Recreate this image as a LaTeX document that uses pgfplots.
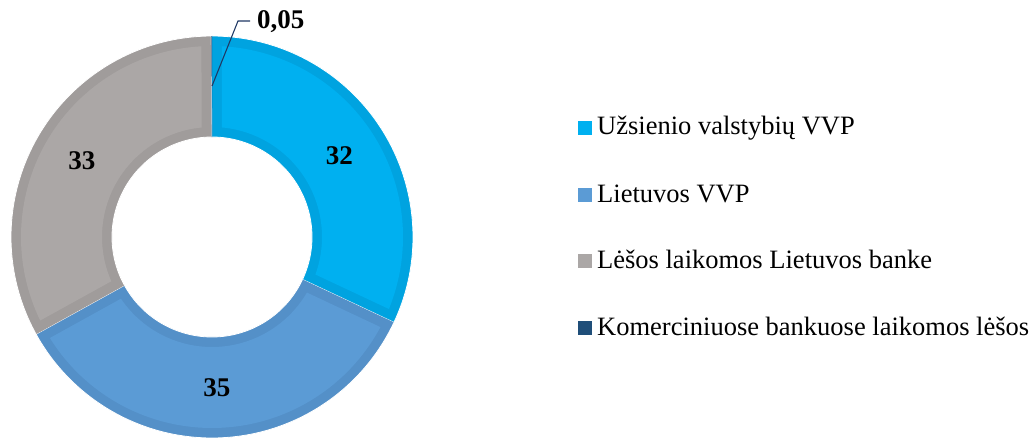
\documentclass[border=0pt]{standalone}
\usepackage{fontspec}
\setmainfont{Liberation Serif}
\usepackage{pgfplots}
\pgfplotsset{compat=1.18}

\definecolor{uzsL}{HTML}{00B0F0}
\definecolor{uzsD}{HTML}{00A3E0}
\definecolor{ltL}{HTML}{5B9BD5}
\definecolor{ltD}{HTML}{5490C8}
\definecolor{lbL}{HTML}{ABA7A6}
\definecolor{lbD}{HTML}{A09C9B}
\definecolor{kom}{HTML}{1F4E79}
\definecolor{lead}{HTML}{1F3864}

% donut slice: style, outer start/end angle, R, inner start/end angle, r
\newcommand\ring[7]{%
  \addplot[#1, samples at={0,...,201}, variable=\t, forget plot]
  ({212 + (\t<100.5 ? #4 : #7)*cos(\t<100.5 ? (#2)+((#3)-(#2))*\t/100 : (#6)+((#5)-(#6))*(\t-101)/100)},
   {200 + (\t<100.5 ? #4 : #7)*sin(\t<100.5 ? (#2)+((#3)-(#2))*\t/100 : (#6)+((#5)-(#6))*(\t-101)/100)});
}

\newcommand\lbfont{\fontsize{26.5}{30}\selectfont}
\newcommand\valfont{\fontsize{27}{30}\selectfont\bfseries}

\begin{document}
\begin{tikzpicture}
% shares (%)
\pgfmathsetmacro\vA{32}
\pgfmathsetmacro\vB{35}
\pgfmathsetmacro\vC{33}
\pgfmathsetmacro\vD{0.05}
\pgfmathsetmacro\T{\vA+\vB+\vC+\vD}
\pgfmathsetmacro\bA{90}
\pgfmathsetmacro\bB{\bA-360*\vA/\T}
\pgfmathsetmacro\bC{\bB-360*\vB/\T}
\pgfmathsetmacro\bD{\bC-360*\vC/\T}
\pgfmathsetmacro\bE{\bD-360*\vD/\T}
\pgfmathsetmacro\mA{(\bA+\bB)/2}
\pgfmathsetmacro\mB{(\bB+\bC)/2}
\pgfmathsetmacro\mC{(\bC+\bD)/2}
\begin{axis}[
  width=1033pt, height=437pt, scale only axis,
  xmin=0, xmax=1033, ymin=0, ymax=437,
  hide axis, clip=false,
]
\ring{fill=uzsD, draw=white, line width=0.8pt}{\bA}{\bB}{201}{\bA}{\bB}{100}
\ring{fill=uzsL, draw=none}{\bA-3}{\bB+3}{191}{\bA-5.2}{\bB+5.2}{110}
\ring{fill=ltD, draw=white, line width=0.8pt}{\bB}{\bC}{201}{\bB}{\bC}{100}
\ring{fill=ltL, draw=none}{\bB-3}{\bC+3}{191}{\bB-5.2}{\bC+5.2}{110}
\ring{fill=lbD, draw=white, line width=0.8pt}{\bC}{\bD}{201}{\bC}{\bD}{100}
\ring{fill=lbL, draw=none}{\bC-3}{\bD+3}{191}{\bC-5.2}{\bD+5.2}{110}
\ring{fill=kom, draw=none}{\bD}{\bE}{201}{\bD}{\bE}{100}

% leader line for the smallest share
\addplot[lead, line width=1.1pt, forget plot] coordinates {(212,351) (238,416) (250,416)};

\node[font=\valfont, inner sep=0pt, anchor=west] at (axis cs:257,415) {0,05};
\node[font=\valfont] at (axis cs:{212+151*cos(\mA)},{200+151*sin(\mA)}) {32};
\node[font=\valfont] at (axis cs:{212+151*cos(\mB)},{200+151*sin(\mB)}) {35};
\node[font=\valfont] at (axis cs:{212+151*cos(\mC)},{200+151*sin(\mC)}) {33};

% legend
\addplot[only marks, mark=square*, mark size=6.5pt, color=uzsL, forget plot] coordinates {(585,309)};
\addplot[only marks, mark=square*, mark size=6.5pt, color=ltL, forget plot] coordinates {(585,242)};
\addplot[only marks, mark=square*, mark size=6.5pt, color=lbL, forget plot] coordinates {(585,176)};
\addplot[only marks, mark=square*, mark size=6.5pt, color=kom, forget plot] coordinates {(585,109)};
\node[font=\lbfont, inner sep=0pt, anchor=base west] at (axis cs:597,302) {Užsienio valstybių VVP};
\node[font=\lbfont, inner sep=0pt, anchor=base west] at (axis cs:597,235) {Lietuvos VVP};
\node[font=\lbfont, inner sep=0pt, anchor=base west] at (axis cs:597,169) {Lėšos laikomos Lietuvos banke};
\node[font=\lbfont, inner sep=0pt, anchor=base west] at (axis cs:597,102) {Komerciniuose bankuose laikomos lėšos};
\end{axis}
\pgfresetboundingbox
\path (current axis.south west) rectangle (current axis.north east);
\end{tikzpicture}
\end{document}
